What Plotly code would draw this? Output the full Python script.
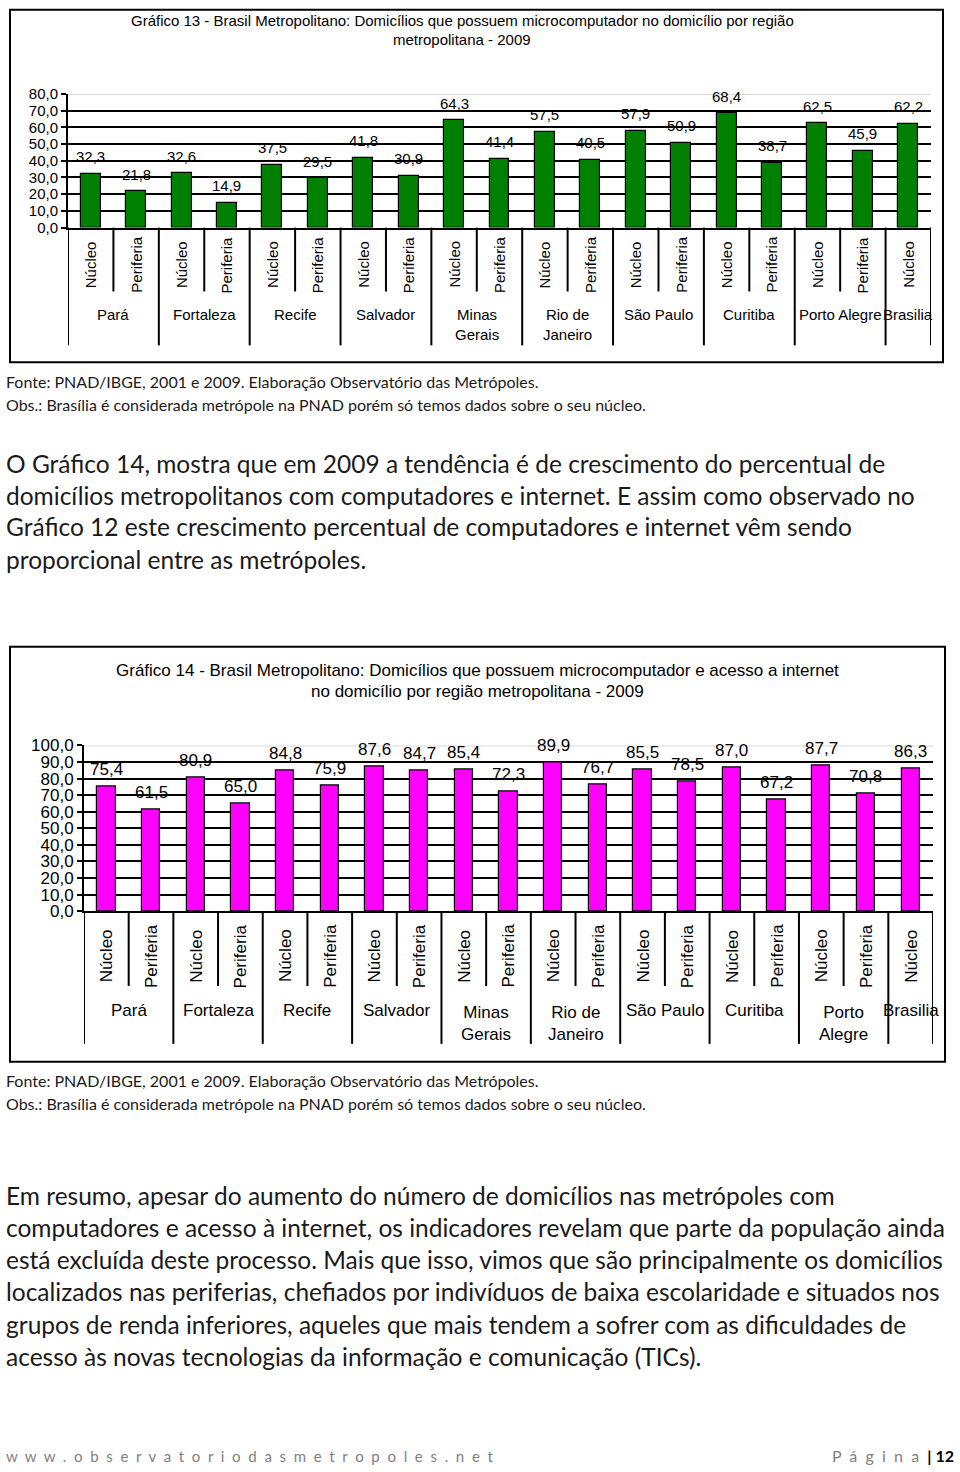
import plotly.graph_objects as go

W, H = 960, 1472

# ---------------- data ----------------
groups13 = ["Pará", "Fortaleza", "Recife", "Salvador", "Minas<br>Gerais", "Rio de<br>Janeiro",
            "São Paulo", "Curitiba", "Porto Alegre", "Brasilia"]
groups14 = ["Pará", "Fortaleza", "Recife", "Salvador", "Minas<br>Gerais", "Rio de<br>Janeiro",
            "São Paulo", "Curitiba", "Porto<br>Alegre", "Brasilia"]
group_sizes = [2, 2, 2, 2, 2, 2, 2, 2, 2, 1]
subcats = ["Núcleo", "Periferia"] * 9 + ["Núcleo"]

vals13 = [32.3, 21.8, 32.6, 14.9, 37.5, 29.5, 41.8, 30.9, 64.3, 41.4,
          57.5, 40.5, 57.9, 50.9, 68.4, 38.7, 62.5, 45.9, 62.2]
vals14 = [75.4, 61.5, 80.9, 65.0, 84.8, 75.9, 87.6, 84.7, 85.4, 72.3,
          89.9, 76.7, 85.5, 78.5, 87.0, 67.2, 87.7, 70.8, 86.3]

ticks13 = [0, 10, 20, 30, 40, 50, 60, 70, 80]
ticks14 = [0, 10, 20, 30, 40, 50, 60, 70, 80, 90, 100]

title13 = ["Gráfico 13 - Brasil Metropolitano: Domicílios que possuem microcomputador no domicílio por região",
           "metropolitana - 2009"]
title14 = ["Gráfico 14 - Brasil Metropolitano: Domicílios que possuem microcomputador e acesso a internet",
           "no domicílio por região metropolitana - 2009"]
fonte = "Fonte: PNAD/IBGE, 2001 e 2009. Elaboração Observatório das Metrópoles."
obs = "Obs.: Brasília é considerada metrópole na PNAD porém só temos dados sobre o seu núcleo."
para1 = ["O Gráfico 14, mostra que em 2009 a tendência é de crescimento do percentual de",
         "domicílios metropolitanos com computadores e internet. E assim como observado no",
         "Gráfico 12 este crescimento percentual de computadores e internet vêm sendo",
         "proporcional entre as metrópoles."]
para2 = ["Em resumo, apesar do aumento do número de domicílios nas metrópoles com",
         "computadores e acesso à internet, os indicadores revelam que parte da população ainda",
         "está excluída deste processo. Mais que isso, vimos que são principalmente os domicílios",
         "localizados nas periferias, chefiados por indivíduos de baixa escolaridade e situados nos",
         "grupos de renda inferiores, aqueles que mais tendem a sofrer com as dificuldades de",
         "acesso às novas tecnologias da informação e comunicação (TICs)."]
site = "www.observatoriodasmetropoles.net"
page_word = "Página"
page_num = "12"

# ---------------- helpers ----------------
# vertical placement: target page row -> figure row (compensates the observed
# 8px top offset / slight vertical squeeze of the captured page)
Y_OFF, Y_SCALE = 7.9, 0.98925

def fx(p):
    return p / W

def fy(p):
    r = (p - Y_OFF) / Y_SCALE
    r = min(max(r, 0.8), H - 0.8)
    return 1 - r / H

def fmt(v):
    return f"{v:.1f}".replace(".", ",")

def spaced(s, gap="\u00a0\u00a0"):
    return gap.join(list(s))

ARIAL = "Liberation Sans, Arial, sans-serif"
BODY = "Lato, Open Sans, sans-serif"
INK = "#1a1a1a"

fig = go.Figure()
annotations = []
shapes = []

charts = [
    dict(vals=vals13, ticks=ticks13, groups=groups13, color="#008000", xa="x", ya="y",
         dom_x=(68, 931), dom_y=(93, 227), barw=0.44, title=title13, title_y=(19, 38), title_x=462,
         tsize=15, sub_y=264, short_y=291, long_y=345, grp_y=314, box=(10, 1, 943, 362),
         foot_y=(381, 404), font=15),
    dict(vals=vals14, ticks=ticks14, groups=groups14, color="#FF00FF", xa="x2", ya="y2",
         dom_x=(84, 933), dom_y=(746, 912), barw=0.41, title=title14, title_y=(671, 692), title_x=477,
         tsize=17, sub_y=957, short_y=987, long_y=1045, grp_y=1012, box=(10, 647, 945, 1063),
         foot_y=(1082, 1105), font=17),
]

layout_axes = {}
for k, c in enumerate(charts):
    n = len(c["vals"])
    xs = list(range(n))
    fig.add_trace(go.Bar(x=xs, y=c["vals"], width=c["barw"], xaxis=c["xa"], yaxis=c["ya"],
                         marker=dict(color=c["color"], line=dict(color="black", width=1.2)),
                         showlegend=False, hoverinfo="skip"))
    suffix = "" if k == 0 else "2"
    ymax = c["ticks"][-1]
    layout_axes["xaxis" + suffix] = dict(
        domain=[fx(c["dom_x"][0]), fx(c["dom_x"][1])], range=[-0.5, n - 0.5],
        anchor=c["ya"], showticklabels=False, showgrid=False, zeroline=False,
        showline=True, linecolor="black", linewidth=2, ticks="")
    layout_axes["yaxis" + suffix] = dict(
        domain=[fy(c["dom_y"][1]), fy(c["dom_y"][0])], range=[0, ymax],
        anchor=c["xa"], tickvals=c["ticks"], ticktext=[fmt(t) for t in c["ticks"]],
        ticks="outside", ticklen=5, tickcolor="black", tickwidth=1.5,
        showline=True, linecolor="black", linewidth=2, zeroline=False,
        showgrid=True, gridcolor="black", gridwidth=1.5,
        tickfont=dict(family=ARIAL, size=c["font"], color="black"))
    # top gridline is light grey in the original
    shapes.append(dict(type="line", xref=c["xa"] + " domain", yref=c["ya"], x0=0, x1=1,
                       y0=ymax, y1=ymax, line=dict(color="#d9d9d9", width=2), layer="above"))
    # value labels above bars
    for i, v in enumerate(c["vals"]):
        annotations.append(dict(x=i, y=v, xref=c["xa"], yref=c["ya"], text=fmt(v), showarrow=False,
                                yshift=17, font=dict(family=ARIAL, size=c["font"], color="black")))
    # rotated sub-category labels
    for i, s in enumerate(subcats):
        annotations.append(dict(x=i, y=fy(c["sub_y"]), xref=c["xa"], yref="paper", text=s,
                                textangle=-90, showarrow=False, yanchor="middle",
                                font=dict(family=ARIAL, size=c["font"], color="black")))
    # category separators and group labels
    start = 0
    shapes.append(dict(type="line", xref=c["xa"], yref="paper", x0=-0.5, x1=-0.5,
                       y0=fy(c["dom_y"][1]), y1=fy(c["long_y"]), line=dict(color="black", width=2)))
    for g, size in zip(c["groups"], group_sizes):
        for j in range(1, size):
            xpos = start + j - 0.5
            shapes.append(dict(type="line", xref=c["xa"], yref="paper", x0=xpos, x1=xpos,
                               y0=fy(c["dom_y"][1]), y1=fy(c["short_y"]),
                               line=dict(color="black", width=2)))
        end = start + size
        shapes.append(dict(type="line", xref=c["xa"], yref="paper", x0=end - 0.5, x1=end - 0.5,
                           y0=fy(c["dom_y"][1]), y1=fy(c["long_y"]), line=dict(color="black", width=2)))
        annotations.append(dict(x=(start + end - 1) / 2, y=fy(c["grp_y"]), xref=c["xa"], yref="paper",
                                text=g, showarrow=False, yanchor="top" if "<br>" in g else "middle",
                                yshift=10 if "<br>" in g else 0,
                                font=dict(family=ARIAL, size=c["font"], color="black")))
        start = end
    # chart titles
    for line, ty in zip(c["title"], c["title_y"]):
        annotations.append(dict(x=fx(c["title_x"]), y=fy(ty), xref="paper", yref="paper", text=line,
                                showarrow=False, xanchor="center", yanchor="middle",
                                font=dict(family=ARIAL, size=c["tsize"], color="black")))
    # chart frame
    x0, y0, x1, y1 = c["box"]
    shapes.append(dict(type="rect", xref="paper", yref="paper", x0=fx(x0), x1=fx(x1),
                       y0=fy(y1), y1=fy(y0), line=dict(color="black", width=2)))
    # source notes
    for line, ty in zip([fonte, obs], c["foot_y"]):
        annotations.append(dict(x=fx(4), y=fy(ty), xref="paper", yref="paper", text=line,
                                showarrow=False, xanchor="left", yanchor="middle",
                                font=dict(family=BODY, size=16, color=INK)))

# body paragraphs
for lines, ys in [(para1, [463, 495, 527, 560]), (para2, [1197, 1229, 1261, 1293, 1326, 1358])]:
    for line, ty in zip(lines, ys):
        annotations.append(dict(x=fx(4), y=fy(ty), xref="paper", yref="paper", text=line,
                                showarrow=False, xanchor="left", yanchor="middle",
                                font=dict(family=BODY, size=24.5, color=INK)))

# footer
annotations.append(dict(x=fx(4), y=fy(1458), xref="paper", yref="paper", text=spaced(site), showarrow=False,
                        xanchor="left", yanchor="middle", font=dict(family=BODY, size=15, color="#808080")))
annotations.append(dict(x=fx(956), y=fy(1458), xref="paper", yref="paper",
                        text="<span style='color:#808080'>" + spaced(page_word) + "\u00a0\u00a0</span><b>|\u00a0" + page_num + "</b>",
                        showarrow=False, xanchor="right", yanchor="middle",
                        font=dict(family=BODY, size=16, color="black")))

fig.update_layout(width=W, height=H, margin=dict(l=0, r=0, t=0, b=0),
                  paper_bgcolor="white", plot_bgcolor="white",
                  annotations=annotations, shapes=shapes, bargap=0, **layout_axes)

fig.write_html("out.html")
